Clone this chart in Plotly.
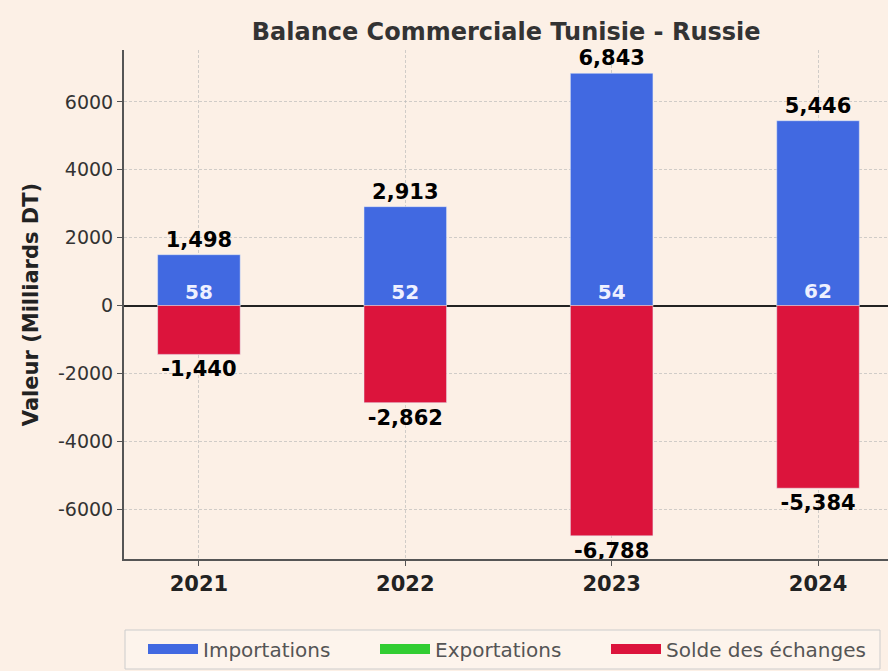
import plotly.graph_objects as go

years = ["2021", "2022", "2023", "2024"]
importations = [1498, 2913, 6843, 5446]
exportations = [58, 52, 54, 62]
solde = [-1440, -2862, -6788, -5384]
y_ticks = [-6000, -4000, -2000, 0, 2000, 4000, 6000]

BG = "#FCF0E6"
FONT = "DejaVu Sans"
GRID = "rgba(185,185,185,0.65)"
C_IMP, C_EXP, C_SOL = "#4169E1", "#32CD32", "#DC143C"

fig = go.Figure()
fig.add_trace(go.Bar(
    x=years, y=exportations, name="Exportations", marker_color=C_EXP,
    width=0.4, showlegend=False,
))
fig.add_trace(go.Bar(
    x=years, y=importations, name="Importations", marker_color=C_IMP,
    width=0.4, showlegend=False,
    text=[f"{v:,}" for v in importations], textposition="outside",
    textfont=dict(family=FONT, size=21, color="black", weight="bold"),
    cliponaxis=False,
))
fig.add_trace(go.Bar(
    x=years, y=solde, name="Solde des échanges", marker_color=C_SOL,
    width=0.4, showlegend=False,
    text=[f"{v:,}" for v in solde], textposition="outside",
    textfont=dict(family=FONT, size=21, color="black", weight="bold"),
    cliponaxis=False,
))
fig.add_trace(go.Scatter(
    x=years, y=exportations, mode="text", text=[str(v) for v in exportations],
    textposition="top center", showlegend=False, hoverinfo="skip",
    textfont=dict(family=FONT, size=20, color="#EEF0FF", weight="bold"),
    cliponaxis=False,
))

# legend entries (one legend per entry, to match spacing)
for name, color, lg in [("Importations", C_IMP, "legend"),
                        ("Exportations", C_EXP, "legend2"),
                        ("Solde des échanges", C_SOL, "legend3")]:
    fig.add_trace(go.Scatter(
        x=[None], y=[None], mode="lines", name=name,
        line=dict(color=color, width=12), legend=lg, hoverinfo="skip",
    ))

W0, H0 = 764, 509  # plot area size in px
def px_x(p):
    return (p - 124) / W0
def px_y(p):
    return (559 - p) / H0

leg_common = dict(orientation="h", xanchor="left", yanchor="middle",
                  y=px_y(649), bgcolor="rgba(0,0,0,0)", borderwidth=0,
                  itemwidth=50, font=dict(family=FONT, size=20, color="#555555"))

fig.update_layout(
    width=888, height=671,
    barmode="overlay",
    paper_bgcolor=BG, plot_bgcolor=BG,
    margin=dict(l=124, r=0, t=50, b=112),
    font=dict(family=FONT, size=19, color="#333333"),
    title=dict(text="<b>Balance Commerciale Tunisie - Russie</b>",
               x=0.57, xanchor="center", y=1 - 32 / 671, yanchor="middle",
               font=dict(size=24, color="#333333")),
    legend=dict(x=px_x(143), **leg_common),
    legend2=dict(x=px_x(375), **leg_common),
    legend3=dict(x=px_x(606), **leg_common),
    shapes=[dict(type="rect", xref="paper", yref="paper",
                 x0=px_x(125), x1=px_x(880), y0=px_y(669), y1=px_y(630),
                 line=dict(color="#CCCCCC", width=1), fillcolor="rgba(255,255,255,0.25)",
                 layer="below")],
)
fig.update_xaxes(
    range=[-0.363, 3.339], showline=True, linecolor="#555555", linewidth=2,
    ticks="outside", ticklen=5, tickcolor="#555555",
    tickfont=dict(size=21, color="#222222", weight="bold"),
    showgrid=True, gridcolor=GRID, griddash="3px,2px",
    layer="above traces",
)
fig.update_yaxes(
    range=[-7470, 7530], tickvals=y_ticks, ticktext=[str(v) for v in y_ticks],
    showline=True, linecolor="#555555", linewidth=2,
    ticks="outside", ticklen=5, tickcolor="#555555",
    tickfont=dict(size=19, color="#333333"),
    showgrid=True, gridcolor=GRID, griddash="3px,2px",
    zeroline=True, zerolinecolor="#222222", zerolinewidth=2,
    title=dict(text="<b>Valeur (Milliards DT)</b>", standoff=14,
               font=dict(size=21, color="#222222")),
    layer="above traces",
)

fig.write_html("out.html", config={"displayModeBar": False},
               post_script="document.body.style.margin='0';")
